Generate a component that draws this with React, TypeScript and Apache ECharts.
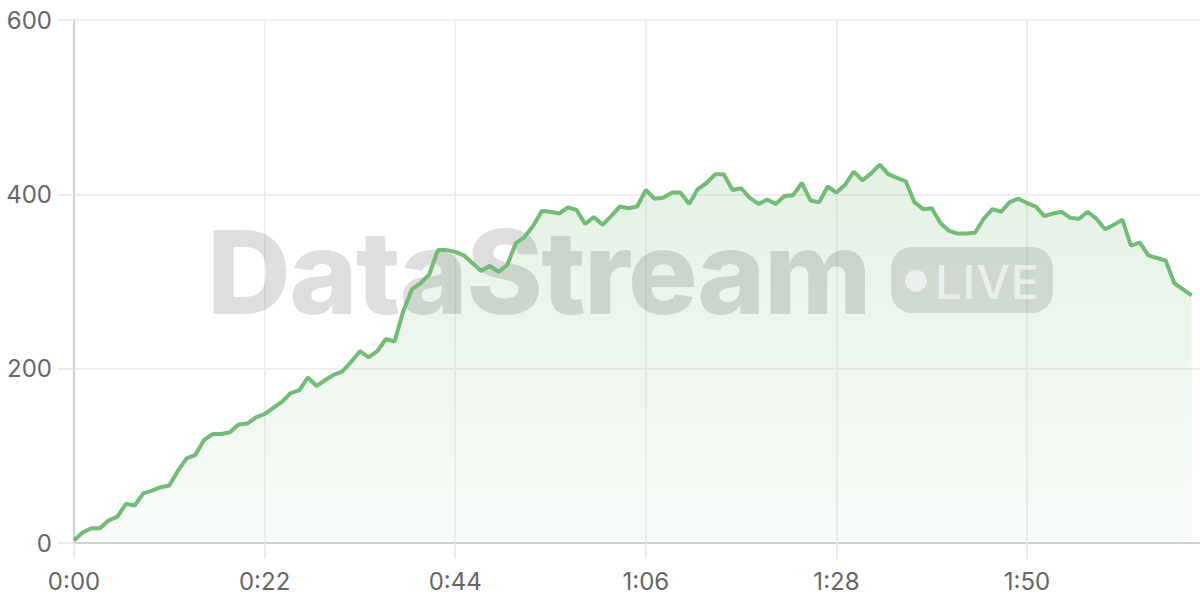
import React, { useEffect, useRef } from "react";
import * as echarts from "echarts";

const viewers: number[] = [
  3, 12, 17, 17, 26, 30, 45, 43, 57, 60, 64, 66, 83, 97, 101, 118, 125, 125, 127, 136,
  137, 144, 148, 155, 162, 172, 175, 190, 180, 187, 193, 197, 208, 220, 213, 220, 234, 231, 266, 291,
  298, 308, 336, 336, 334, 330, 321, 312, 318, 311, 319, 344, 351, 364, 381, 380, 378, 385, 382, 366,
  374, 365, 375, 386, 384, 386, 405, 395, 396, 402, 402, 389, 406, 413, 423, 423, 405, 407, 396, 389,
  394, 389, 398, 399, 413, 393, 391, 409, 402, 411, 426, 416, 424, 434, 423, 419, 415, 391, 383, 384,
  367, 358, 355, 355, 356, 372, 383, 380, 391, 395, 390, 386, 375, 378, 380, 373, 372, 380, 372, 360,
  365, 371, 341, 345, 330, 327, 324, 298, 291, 284,
];
const yTicks = { min: 0, max: 600, interval: 200 };
const xTicks = { min: 0, max: 131, interval: 22 };
const wordmark = "DataStream";
const badge = "LIVE";
const FONT = "Inter, 'Noto Sans', sans-serif";

function fmtTime(v: number): string {
  const m = Math.round(v);
  return `${Math.floor(m / 60)}:${String(m % 60).padStart(2, "0")}`;
}

export default function App() {
  const ref = useRef<HTMLDivElement>(null);
  useEffect(() => {
    document.body.style.margin = "0";
    const chart = echarts.init(ref.current!, undefined, { renderer: "svg" });
    const points = viewers.map((v, i) => [i, v]);
    chart.setOption({
      animation: false,
      backgroundColor: "#fff",
      grid: { left: 74, top: 20, width: 1135, height: 523, containLabel: false },
      graphic: [
        {
          type: "group",
          silent: true,
          children: [
            {
              type: "text",
              x: 207,
              y: 214,
              z: 2,
              style: {
                text: wordmark,
                font: `800 116px ${FONT}`,
                fill: "rgba(0,0,0,0.13)",
                textAlign: "left",
                textVerticalAlign: "top",
              },
            },
            {
              type: "rect",
              z: 2,
              shape: { x: 891, y: 247, width: 162, height: 66, r: 21 },
              style: { fill: "rgba(0,0,0,0.115)" },
            },
            {
              type: "circle",
              z: 2,
              shape: { cx: 916, cy: 281, r: 11 },
              style: { fill: "rgba(255,255,255,0.6)" },
            },
            {
              type: "text",
              x: 935,
              y: 281,
              z: 2,
              style: {
                text: badge,
                font: `500 47px ${FONT}`,
                fill: "rgba(255,255,255,0.6)",
                textAlign: "left",
                textVerticalAlign: "middle",
              },
            },
          ],
        },
      ],
      xAxis: {
        type: "value",
        min: xTicks.min,
        max: xTicks.max,
        interval: xTicks.interval,
        axisLine: { show: true, onZero: false, lineStyle: { color: "#d0d0d0", width: 2 } },
        axisTick: { show: true, length: 16, lineStyle: { color: "#ececec", width: 2 } },
        splitLine: { show: true, lineStyle: { color: "#efefef", width: 2 } },
        axisLabel: {
          show: true,
          color: "#666",
          fontFamily: FONT,
          fontSize: 24,
          margin: 26,
          showMaxLabel: false,
          formatter: (v: number) => fmtTime(v),
        },
      },
      yAxis: {
        type: "value",
        min: yTicks.min,
        max: yTicks.max,
        interval: yTicks.interval,
        axisLine: { show: true, lineStyle: { color: "#d0d0d0", width: 2 } },
        axisTick: { show: true, length: 16, lineStyle: { color: "#ececec", width: 2 } },
        splitLine: { show: true, lineStyle: { color: "#efefef", width: 2 } },
        axisLabel: { show: true, color: "#666", fontFamily: FONT, fontSize: 24, margin: 22 },
      },
      series: [
        {
          type: "line",
          data: points,
          showSymbol: false,
          lineStyle: { width: 0 },
          areaStyle: {
            color: new echarts.graphic.LinearGradient(0, 0, 0, 1, [
              { offset: 0, color: "rgba(116,187,120,0.28)" },
              { offset: 1, color: "rgba(116,187,120,0.07)" },
            ]),
          },
          z: 1,
        },
        {
          type: "line",
          data: points,
          showSymbol: false,
          lineStyle: { color: "#74bb78", width: 4 },
          z: 3,
        },
      ],
    });
    ref.current!.querySelectorAll("text").forEach((t) => {
      if (t.textContent === wordmark) (t as SVGTextElement).style.letterSpacing = "-1.5px";
      if (t.textContent === badge) (t as SVGTextElement).style.letterSpacing = "1px";
    });
    return () => chart.dispose();
  }, []);
  return (
    <div style={{ position: "fixed", left: 0, top: 0, width: 1200, height: 600, overflow: "hidden" }}>
      <div ref={ref} style={{ width: 1220, height: 600 }} />
    </div>
  );
}
